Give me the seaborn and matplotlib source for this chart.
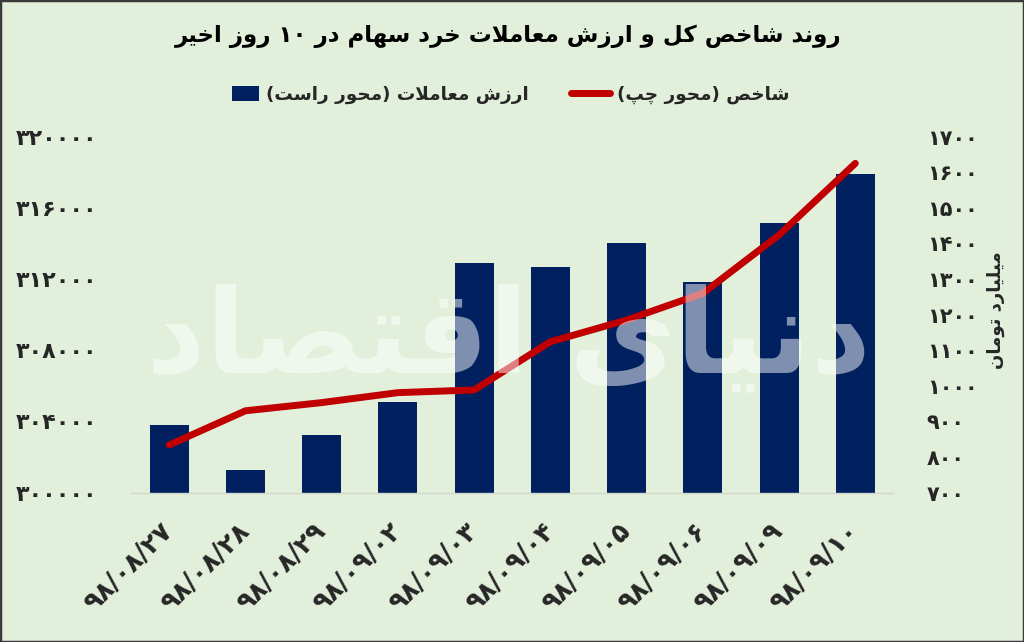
import re
import numpy as np
import pandas as pd
import matplotlib
matplotlib.use("Agg")
import matplotlib.pyplot as plt
from matplotlib.patches import Rectangle, Patch
from matplotlib.lines import Line2D
from matplotlib.legend_handler import HandlerPatch
import seaborn as sns

# ---------------- data ----------------
dates = ["۹۸/۰۸/۲۷", "۹۸/۰۸/۲۸", "۹۸/۰۸/۲۹", "۹۸/۰۹/۰۲", "۹۸/۰۹/۰۳",
         "۹۸/۰۹/۰۴", "۹۸/۰۹/۰۵", "۹۸/۰۹/۰۶", "۹۸/۰۹/۰۹", "۹۸/۰۹/۱۰"]
trade_value = [890, 764, 862, 955, 1346, 1334, 1401, 1293, 1458, 1595]
index_value = [302680, 304600, 305060, 305620, 305770, 308480, 309700, 311200, 314480, 318500]
left_ticks = [300000, 304000, 308000, 312000, 316000, 320000]
right_ticks = [700, 800, 900, 1000, 1100, 1200, 1300, 1400, 1500, 1600, 1700]

title_text = "روند شاخص کل و ارزش معاملات خرد سهام در ۱۰ روز اخیر"
legend_bar = "ارزش معاملات (محور راست)"
legend_line = "شاخص (محور چپ)"
right_label = "میلیارد تومان"
watermark_text = "دنیای اقتصاد"

# ---------------- Arabic / Persian shaping (no shaping engine in matplotlib) ----------------
FORMS = {
    'ا': (0xFE8D, 0xFE8E, None, None), 'آ': (0xFE81, 0xFE82, None, None),
    'ب': (0xFE8F, 0xFE90, 0xFE91, 0xFE92), 'ت': (0xFE95, 0xFE96, 0xFE97, 0xFE98),
    'ث': (0xFE99, 0xFE9A, 0xFE9B, 0xFE9C), 'ج': (0xFE9D, 0xFE9E, 0xFE9F, 0xFEA0),
    'ح': (0xFEA1, 0xFEA2, 0xFEA3, 0xFEA4), 'خ': (0xFEA5, 0xFEA6, 0xFEA7, 0xFEA8),
    'د': (0xFEA9, 0xFEAA, None, None), 'ذ': (0xFEAB, 0xFEAC, None, None),
    'ر': (0xFEAD, 0xFEAE, None, None), 'ز': (0xFEAF, 0xFEB0, None, None),
    'ژ': (0xFB8A, 0xFB8B, None, None),
    'س': (0xFEB1, 0xFEB2, 0xFEB3, 0xFEB4), 'ش': (0xFEB5, 0xFEB6, 0xFEB7, 0xFEB8),
    'ص': (0xFEB9, 0xFEBA, 0xFEBB, 0xFEBC), 'ض': (0xFEBD, 0xFEBE, 0xFEBF, 0xFEC0),
    'ط': (0xFEC1, 0xFEC2, 0xFEC3, 0xFEC4), 'ظ': (0xFEC5, 0xFEC6, 0xFEC7, 0xFEC8),
    'ع': (0xFEC9, 0xFECA, 0xFECB, 0xFECC), 'غ': (0xFECD, 0xFECE, 0xFECF, 0xFED0),
    'ف': (0xFED1, 0xFED2, 0xFED3, 0xFED4), 'ق': (0xFED5, 0xFED6, 0xFED7, 0xFED8),
    'ل': (0xFEDD, 0xFEDE, 0xFEDF, 0xFEE0), 'م': (0xFEE1, 0xFEE2, 0xFEE3, 0xFEE4),
    'ن': (0xFEE5, 0xFEE6, 0xFEE7, 0xFEE8), 'ه': (0xFEE9, 0xFEEA, 0xFEEB, 0xFEEC),
    'و': (0xFEED, 0xFEEE, None, None),
    'ی': (0xFBFC, 0xFBFD, 0xFBFE, 0xFBFF), 'ک': (0xFB8E, 0xFB8F, 0xFB90, 0xFB91),
    'گ': (0xFB92, 0xFB93, 0xFB94, 0xFB95), 'پ': (0xFB56, 0xFB57, 0xFB58, 0xFB59),
    'چ': (0xFB7A, 0xFB7B, 0xFB7C, 0xFB7D),
}


def _dual(c):
    return c in FORMS and FORMS[c][2] is not None


def shape(text):
    out = []
    i = 0
    n = len(text)
    while i < n:
        c = text[i]
        if c not in FORMS:
            out.append(c)
            i += 1
            continue
        prev = text[i - 1] if i > 0 else None
        cp = _dual(prev)
        if c == 'ل' and i + 1 < n and text[i + 1] == 'ا':
            out.append(chr(0xFEFC if cp else 0xFEFB))
            i += 2
            continue
        nxt = text[i + 1] if i + 1 < n else None
        cn = _dual(c) and nxt in FORMS
        iso, fin, ini, med = FORMS[c]
        if cp and cn:
            code = med
        elif cp:
            code = fin
        elif cn:
            code = ini
        else:
            code = iso
        out.append(chr(code))
        i += 1
    return ''.join(out)


def visual(text):
    shaped = shape(text)
    tokens = re.findall(r'[0-9\u06F0-\u06F9]+|.', shaped)
    mirror = {'(': ')', ')': '('}
    return ''.join(mirror.get(t, t) for t in tokens[::-1])


FA_DIGITS = str.maketrans('0123456789', '۰۱۲۳۴۵۶۷۸۹')


def fa_num(v):
    return str(int(v)).translate(FA_DIGITS)


# ---------------- style ----------------
BG = '#E2EFDA'
NAVY = '#002060'
RED = '#C00000'

sns.set_theme(style='white')
plt.rcParams['font.family'] = ['DejaVu Sans']
plt.rcParams['font.weight'] = 'bold'

fig = plt.figure(figsize=(10.24, 6.42), dpi=100, facecolor=BG)
ax_bar = fig.add_axes([0.128, 0.2326, 0.7445, 0.5545])
ax_bar.set_facecolor(BG)

df = pd.DataFrame({'date': dates, 'value': trade_value, 'index': index_value,
                   'pos': np.arange(len(dates))})

sns.barplot(data=df, x='date', y='value', order=dates, color=NAVY, saturation=1,
            width=0.51, linewidth=0, ax=ax_bar)
ax_bar.set_ylim(right_ticks[0], right_ticks[-1])

ax_line = ax_bar.twinx()
sns.lineplot(data=df, x='pos', y='index', color=RED, linewidth=5.0, ax=ax_line,
             solid_capstyle='round')
ax_line.set_ylim(left_ticks[0], left_ticks[-1])
ax_line.set_xlim(-0.5, len(dates) - 0.5)

# axes sides
ax_bar.yaxis.tick_right()
ax_line.yaxis.tick_left()
ax_bar.set_yticks(right_ticks)
ax_bar.set_yticklabels([fa_num(v) for v in right_ticks])
ax_line.set_yticks(left_ticks)
ax_line.set_yticklabels([fa_num(v) for v in left_ticks])

ax_bar.set_xticks(np.arange(len(dates)))
ax_bar.set_xticklabels(dates, rotation=45, ha='right', va='center',
                       rotation_mode='anchor')
for a in (ax_bar, ax_line):
    a.set_xlabel('')
    a.set_ylabel('')
    for s in a.spines.values():
        s.set_visible(False)
ax_bar.spines['bottom'].set_visible(True)
ax_bar.spines['bottom'].set_color('#CFD8CA')
ax_bar.spines['bottom'].set_linewidth(1.0)

ax_bar.tick_params(axis='y', length=0, pad=24, labelsize=15)
ax_line.tick_params(axis='y', length=0, pad=24, labelsize=16)
ax_bar.tick_params(axis='x', length=0, pad=25, labelsize=18.5)

# title
fig.text(0.496, 1 - 36 / 642, visual(title_text), ha='center', va='center',
         fontsize=16.5, fontweight='bold', color='black')


# legend (narrow square for the bar handle)
def _box(legend, orig_handle, xdescent, ydescent, width, height, fontsize):
    return Rectangle((-xdescent + 0.3 * width, -ydescent - 0.1 * height),
                     0.7 * width, 1.2 * height)


handles = [Patch(facecolor=NAVY, edgecolor='none'),
           Line2D([0], [0], color=RED, linewidth=5.0, solid_capstyle='round')]
fig.legend(handles, [visual(legend_bar), visual(legend_line)], loc='center',
           bbox_to_anchor=(0.493, 1 - 95 / 642), ncol=2, frameon=False,
           fontsize=13.2, handlelength=2.1, handletextpad=0.4, columnspacing=2.3,
           handler_map={Patch: HandlerPatch(patch_func=_box)})

# right axis title
fig.text(996 / 1024, 1 - 310 / 642, visual(right_label), rotation=90,
         ha='center', va='center', fontsize=13, fontweight='bold')

# watermark
fig.text(0.497, 1 - 340 / 642, visual(watermark_text), ha='center', va='center',
         fontsize=84, fontweight='bold', color='white', alpha=0.5, zorder=10)

# frame
fig.add_artist(Rectangle((0, 0), 1, 1, transform=fig.transFigure, fill=False,
                         edgecolor='#3a3a3a', linewidth=2.5))

fig.savefig('out.png', dpi=100, facecolor=BG)
